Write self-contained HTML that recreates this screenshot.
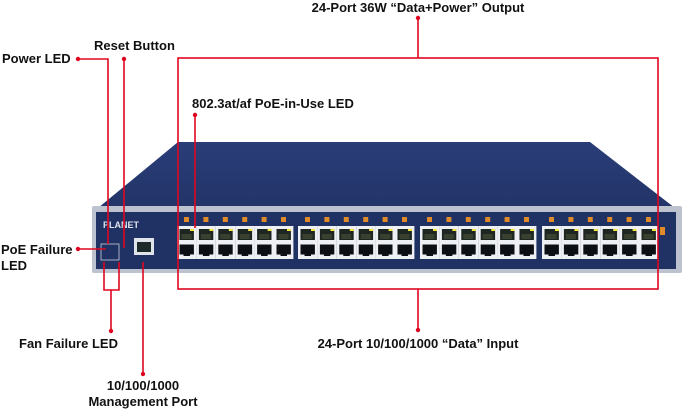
<!DOCTYPE html>
<html><head><meta charset="utf-8"><style>
html,body{margin:0;padding:0;background:#fff;width:700px;height:411px;overflow:hidden}
svg{display:block}
text{font-family:"Liberation Sans",Arial,sans-serif;font-weight:bold;font-size:13px;fill:#111}
</style></head><body>
<svg width="700" height="411" viewBox="0 0 700 411" xmlns="http://www.w3.org/2000/svg">
<defs>
<linearGradient id="top" x1="0" y1="0" x2="0" y2="1"><stop offset="0" stop-color="#2a3d78"/><stop offset="1" stop-color="#223468"/></linearGradient>
<g id="p">
<rect x="0" y="0" width="19.4" height="16.5" fill="#eef0f3"/>
<rect x="2.5" y="3" width="14.4" height="11" fill="#1e2622"/>
<rect x="4.5" y="8" width="10" height="5" fill="#3a4030"/>
<rect x="13" y="3" width="4" height="2" fill="#f2e23a"/>
<rect x="7" y="-9" width="5" height="5" fill="#e08a2a"/>
<rect x="0" y="16.5" width="19.4" height="16.5" fill="#eef0f3"/>
<rect x="2.5" y="18.5" width="14.4" height="10" fill="#0c0f14"/>
<rect x="6.5" y="26" width="6.5" height="4" fill="#0c0f14"/>
</g>
<g id="b">
<use href="#p" x="0"/><use href="#p" x="19.4"/><use href="#p" x="38.8"/><use href="#p" x="58.2"/><use href="#p" x="77.6"/><use href="#p" x="97"/>
</g>
</defs>
<polygon points="178,142 590,142 675,208 98,208" fill="url(#top)"/>
<rect x="92" y="206" width="590" height="67" fill="#bcc3cf" rx="2"/>
<rect x="96" y="212" width="580" height="57" fill="#203264"/>
<text x="103" y="228" style="font-size:9px;fill:#dfe4ee">PLANET</text>
<rect x="101" y="244" width="18" height="16" fill="none" stroke="#c9cfdb" stroke-width="0.8"/>
<rect x="134" y="238" width="20" height="17" fill="#dfe3ea"/>
<rect x="137" y="242" width="14" height="10" fill="#1e2a2a"/>
<use href="#b" x="177" y="226"/>
<use href="#b" x="298" y="226"/>
<use href="#b" x="420" y="226"/>
<use href="#b" x="542" y="226"/>
<rect x="660" y="227" width="5" height="8" fill="#e08a2a"/>
<g stroke="#e0061f" stroke-width="1.6" fill="none">
<polyline points="78,59 108,59 108,244"/>
<line x1="124" y1="59" x2="124" y2="248"/>
<line x1="195" y1="115" x2="195" y2="228"/>
<rect x="178" y="58" width="480" height="231"/>
<line x1="418" y1="18" x2="418" y2="58"/>
<line x1="418" y1="289" x2="418" y2="330"/>
<polyline points="78,249 106,249"/>
<polyline points="104,262 104,290 119,290 119,262"/>
<line x1="111" y1="290" x2="111" y2="331"/>
<line x1="143" y1="262" x2="143" y2="374"/>
</g>
<g fill="#e0061f">
<circle cx="78" cy="59" r="2.2"/><circle cx="124" cy="59" r="2.2"/><circle cx="195" cy="115" r="2.2"/>
<circle cx="418" cy="18" r="2.2"/><circle cx="418" cy="330" r="2.2"/><circle cx="78" cy="249" r="2.2"/>
<circle cx="111" cy="331" r="2.2"/><circle cx="143" cy="374" r="2.2"/>
</g>
<text x="418" y="12" text-anchor="middle">24-Port 36W “Data+Power” Output</text>
<text x="94" y="50">Reset Button</text>
<text x="2" y="63">Power LED</text>
<text x="192" y="108">802.3at/af PoE-in-Use LED</text>
<text x="1" y="254">PoE Failure</text>
<text x="1" y="270">LED</text>
<text x="19" y="348">Fan Failure LED</text>
<text x="418" y="348" text-anchor="middle">24-Port 10/100/1000 “Data” Input</text>
<text x="143" y="390" text-anchor="middle">10/100/1000</text>
<text x="143" y="406" text-anchor="middle">Management Port</text>
</svg>
</body></html>
